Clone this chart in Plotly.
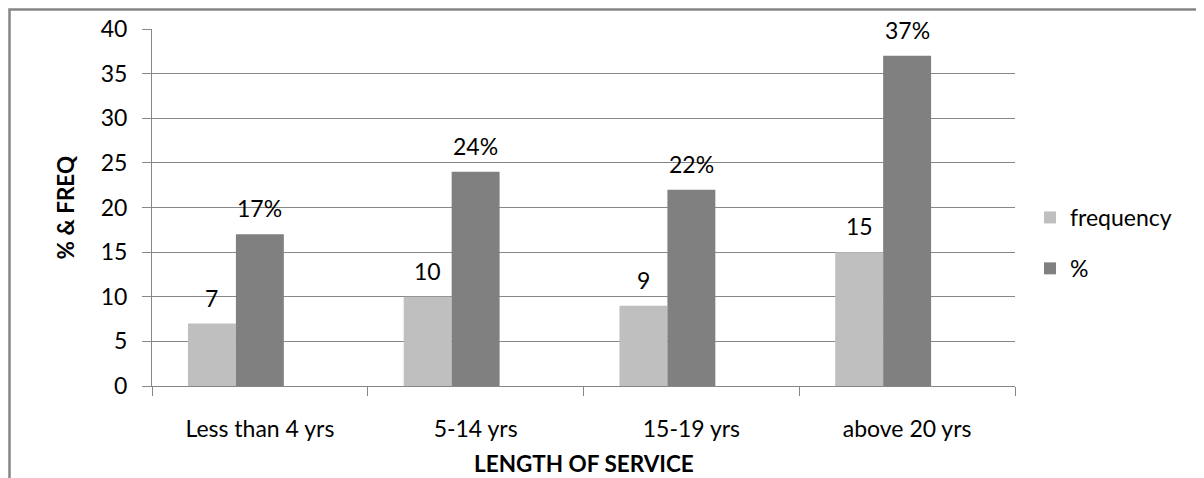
import plotly.graph_objects as go

categories = ["Less than 4 yrs", "5-14 yrs", "15-19 yrs", "above 20 yrs"]
frequency = [7, 10, 9, 15]
percent = [17, 24, 22, 37]
percent_labels = ["17%", "24%", "22%", "37%"]
blank = [None, None, None, None]

FONT = "Lato, 'Liberation Sans', Arial, sans-serif"
FS = 23
GRID = "#878787"
OFF = 8  # page body margin offset
W, H = 1204 - OFF, 478 - OFF
L, T = 152 - OFF, 29 - OFF
PR, PB = 1015 - OFF, 386 - OFF  # plot right / bottom in figure px
R, B = W - PR, H - PB
pw = W - L - R
ph = H - T - B


def px_x(p):
    return (p - OFF - L) / pw


def px_y(p):
    return (PB - (p - OFF)) / ph


fig = go.Figure()
fig.add_trace(go.Bar(name="frequency", x=categories, y=frequency, marker_color="#BFBFBF",
                     marker_line_width=0, legendgroup="a"))
fig.add_trace(go.Bar(name="%", x=categories, y=percent, marker_color="#808080",
                     marker_line_width=0, legendgroup="b"))
fig.add_trace(go.Bar(name="", x=categories, y=blank, showlegend=False, legendgroup="c"))

bar_w = pw / len(categories) * (2 / 3) / 3
annotations = []
for c, v in zip(categories, frequency):
    annotations.append(dict(x=c, y=v, text=str(v), showarrow=False, xshift=-bar_w, yshift=26,
                            yanchor="middle", font=dict(size=FS, color="#000000")))
for c, v, t in zip(categories, percent, percent_labels):
    annotations.append(dict(x=c, y=v, text=t, showarrow=False, xshift=0, yshift=26,
                            yanchor="middle", font=dict(size=FS, color="#000000")))
annotations.append(dict(xref="paper", yref="paper", x=px_x(65), y=0.5, text="<b>% & FREQ</b>",
                        textangle=-90, showarrow=False, xanchor="center", yanchor="middle",
                        font=dict(size=22.5, color="#000000")))
annotations.append(dict(xref="paper", yref="paper", x=0.5, y=px_y(463), text="<b>LENGTH OF SERVICE</b>",
                        showarrow=False, xanchor="center", yanchor="middle",
                        font=dict(size=22.5, color="#000000")))

fig.update_layout(
    width=W, height=H,
    margin=dict(l=L, r=R, t=T, b=B, autoexpand=False),
    paper_bgcolor="white", plot_bgcolor="white",
    font=dict(family=FONT, size=FS, color="#000000"),
    barmode="group", bargap=1 / 3, bargroupgap=0,
    showlegend=True,
    legend=dict(x=px_x(1030), y=px_y(243), xanchor="left", yanchor="middle",
                traceorder="grouped", tracegroupgap=18, font=dict(size=FS),
                bgcolor="rgba(0,0,0,0)"),
    annotations=annotations,
    shapes=[dict(type="rect", xref="paper", yref="paper",
                 x0=px_x(9.5), x1=px_x(1260), y0=px_y(520), y1=px_y(9.5),
                 line=dict(color="#858585", width=2.5), fillcolor="rgba(0,0,0,0)", layer="below")],
)
fig.update_yaxes(range=[0, 40], dtick=5, showgrid=True, gridcolor=GRID, gridwidth=1,
                 showline=True, linecolor=GRID, linewidth=1, ticks="outside", ticklen=9,
                 tickcolor=GRID, zeroline=False, ticklabelstandoff=10, fixedrange=True)
fig.update_xaxes(showgrid=False, showline=True, linecolor=GRID, linewidth=1, ticks="outside",
                 tickson="boundaries", ticklen=9, tickcolor=GRID, ticklabelstandoff=22)

fig.write_html("out.html")
